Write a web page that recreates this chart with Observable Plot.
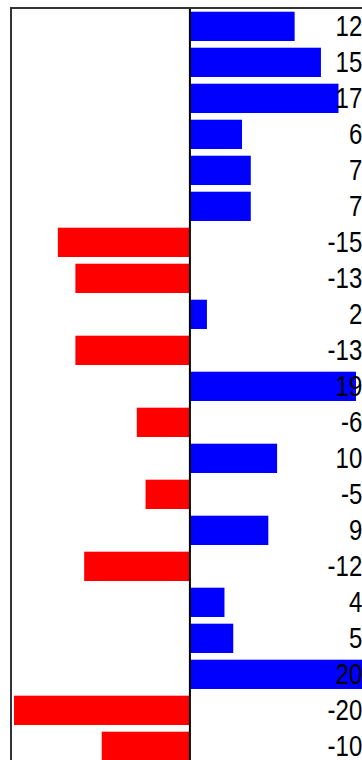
<!DOCTYPE html>
<html>
<head>
<meta charset="utf-8">
<script src="https://cdn.jsdelivr.net/npm/d3@7"></script>
<script src="https://cdn.jsdelivr.net/npm/@observablehq/plot@0.6"></script>
<style>
  html, body { margin: 0; padding: 0; background: #fff; overflow: hidden; }
  #chart svg { display: block; max-width: none !important; }
</style>
</head>
<body>
<div id="chart"></div>
<script>
const categories = ["r1","r2","r3","r4","r5","r6","r7","r8","r9","r10","r11","r12","r13","r14","r15","r16","r17","r18","r19","r20","r21"];
const values = [12, 15, 17, 6, 7, 7, -15, -13, 2, -13, 19, -6, 10, -5, 9, -12, 4, 5, 20, -20, -10];
const labels = ["12","15","17","6","7","7","-15","-13","2","-13","19","-6","10","-5","9","-12","4","5","20","-20","-10"];

const data = categories.map((c, i) => ({cat: c, v: values[i], label: labels[i]}));

const chart = Plot.plot({
  width: 380,
  height: 775,
  marginLeft: 10.5,
  marginRight: 11.7,
  marginTop: 7.5,
  marginBottom: 9.8,
  x: {domain: [-20.4, 20.4], axis: null},
  y: {domain: categories, paddingInner: 0.186, paddingOuter: 0.117, round: false, axis: null},
  style: {fontFamily: "'Liberation Sans', Arial, sans-serif", background: "#fff", maxWidth: "none"},
  marks: [
    Plot.barX(data, {x: "v", y: "cat", fill: d => d.v >= 0 ? "#0000ff" : "#ff0000"}),
    Plot.ruleX([0], {stroke: "#000", strokeWidth: 2}),
    Plot.frame({stroke: "#333", strokeWidth: 2}),
    Plot.text(data, {y: "cat", text: "label", frameAnchor: "right", textAnchor: "end", dx: -6.5, fontSize: 24, fill: "#000", className: "vlabel"})
  ]
});
chart.style.maxWidth = "none";
d3.select(chart).selectAll(".vlabel text").each(function() {
  const t = this.getAttribute("transform") || "";
  this.setAttribute("transform", t + " scale(1,1.2)");
});
document.getElementById("chart").appendChild(chart);
</script>
</body>
</html>
